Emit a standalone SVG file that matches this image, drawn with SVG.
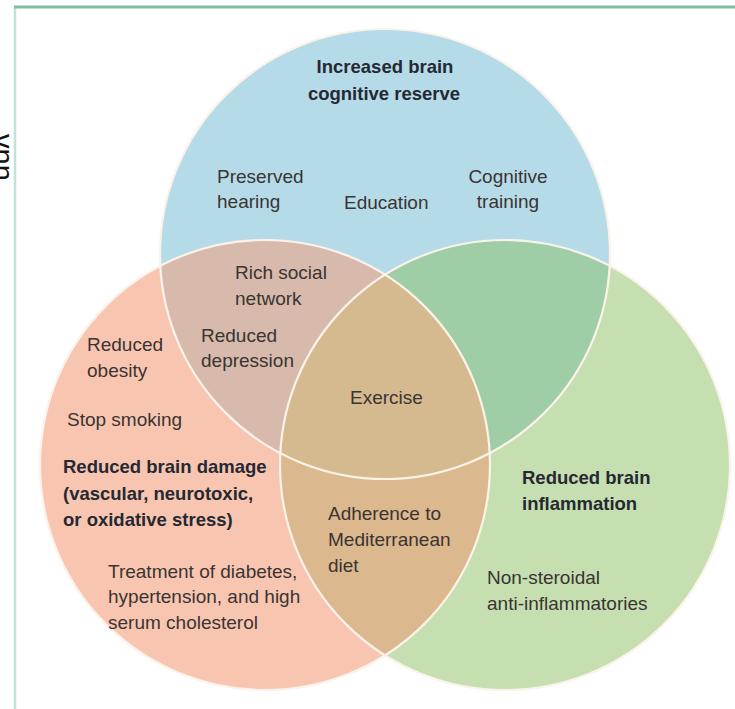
<svg xmlns="http://www.w3.org/2000/svg" width="735" height="709" viewBox="0 0 735 709">
  <defs>
    <style>
      .t { font-family: "Liberation Sans", Arial, sans-serif; font-size: 19px; fill: #3a3433; }
      .b { font-family: "Liberation Sans", Arial, sans-serif; font-size: 18.5px; font-weight: bold; fill: #262833; }
      .mid { text-anchor: middle; }
      .edge { fill: none; stroke: #fbf3ea; stroke-width: 2.2; }
    </style>
    <clipPath id="clipBlue"><circle cx="385" cy="254" r="225"/></clipPath>
    <clipPath id="clipOrange"><circle cx="265" cy="465" r="225"/></clipPath>
    <clipPath id="clipGreen"><circle cx="505" cy="465" r="225"/></clipPath>
  </defs>

  <rect width="735" height="709" fill="#ffffff"/>

  <!-- frame -->
  <line x1="15" y1="7" x2="15" y2="709" stroke="#c2e2d8" stroke-width="2.5"/>
  <line x1="14" y1="7" x2="735" y2="7" stroke="#7fc09c" stroke-width="3"/>

  <!-- clipped fragment of rotated caption at the left margin -->
  <text transform="translate(-7,134) rotate(90)" style="font-family:'Liberation Sans',Arial,sans-serif;font-size:29px;fill:#111">vnn</text>

  <!-- base circles -->
  <g id="circle-reserve">
    <circle cx="385" cy="254" r="225" fill="#b6dbe8"/>
  </g>
  <g id="circle-damage">
    <circle cx="265" cy="465" r="225" fill="#f8c6b0"/>
  </g>
  <g id="circle-inflammation">
    <circle cx="505" cy="465" r="225" fill="#c5dfb0"/>
  </g>

  <!-- overlaps -->
  <g id="overlap-reserve-damage" clip-path="url(#clipBlue)">
    <circle cx="265" cy="465" r="225" fill="#d7baab"/>
  </g>
  <g id="overlap-reserve-inflammation" clip-path="url(#clipBlue)">
    <circle cx="505" cy="465" r="225" fill="#9fcea6"/>
  </g>
  <g id="overlap-damage-inflammation" clip-path="url(#clipOrange)">
    <circle cx="505" cy="465" r="225" fill="#dcb88e"/>
  </g>
  <g id="overlap-all" clip-path="url(#clipBlue)">
    <g clip-path="url(#clipOrange)">
      <circle cx="505" cy="465" r="225" fill="#d5b98f"/>
    </g>
  </g>

  <!-- circle outlines -->
  <g id="outlines">
    <circle class="edge" cx="385" cy="254" r="225"/>
    <circle class="edge" cx="265" cy="465" r="225"/>
    <circle class="edge" cx="505" cy="465" r="225"/>
  </g>

  <!-- labels -->
  <g id="label-reserve">
    <text class="b mid" x="385" y="73">Increased brain</text>
    <text class="b mid" x="384" y="100">cognitive reserve</text>
  </g>
  <g id="item-hearing">
    <text class="t" x="217" y="183">Preserved</text>
    <text class="t" x="217" y="208">hearing</text>
  </g>
  <g id="item-education">
    <text class="t" x="344" y="209">Education</text>
  </g>
  <g id="item-training">
    <text class="t mid" x="508" y="183">Cognitive</text>
    <text class="t mid" x="508" y="208">training</text>
  </g>
  <g id="item-social">
    <text class="t" x="235" y="279">Rich social</text>
    <text class="t" x="235" y="305">network</text>
  </g>
  <g id="item-depression">
    <text class="t" x="201" y="342">Reduced</text>
    <text class="t" x="201" y="367">depression</text>
  </g>
  <g id="item-obesity">
    <text class="t" x="87" y="351">Reduced</text>
    <text class="t" x="87" y="377">obesity</text>
  </g>
  <g id="item-smoking">
    <text class="t" x="67" y="426">Stop smoking</text>
  </g>
  <g id="label-damage">
    <text class="b" x="63" y="473">Reduced brain damage</text>
    <text class="b" x="63" y="500">(vascular, neurotoxic,</text>
    <text class="b" x="63" y="526">or oxidative stress)</text>
  </g>
  <g id="item-treatment">
    <text class="t" x="108" y="578">Treatment of diabetes,</text>
    <text class="t" x="108" y="603">hypertension, and high</text>
    <text class="t" x="108" y="629">serum cholesterol</text>
  </g>
  <g id="item-exercise">
    <text class="t" x="350" y="404">Exercise</text>
  </g>
  <g id="item-diet">
    <text class="t" x="328" y="520">Adherence to</text>
    <text class="t" x="328" y="546">Mediterranean</text>
    <text class="t" x="328" y="572">diet</text>
  </g>
  <g id="label-inflammation">
    <text class="b" x="522" y="484">Reduced brain</text>
    <text class="b" x="522" y="510">inflammation</text>
  </g>
  <g id="item-nsaid">
    <text class="t" x="487" y="584">Non-steroidal</text>
    <text class="t" x="487" y="610">anti-inflammatories</text>
  </g>
</svg>
